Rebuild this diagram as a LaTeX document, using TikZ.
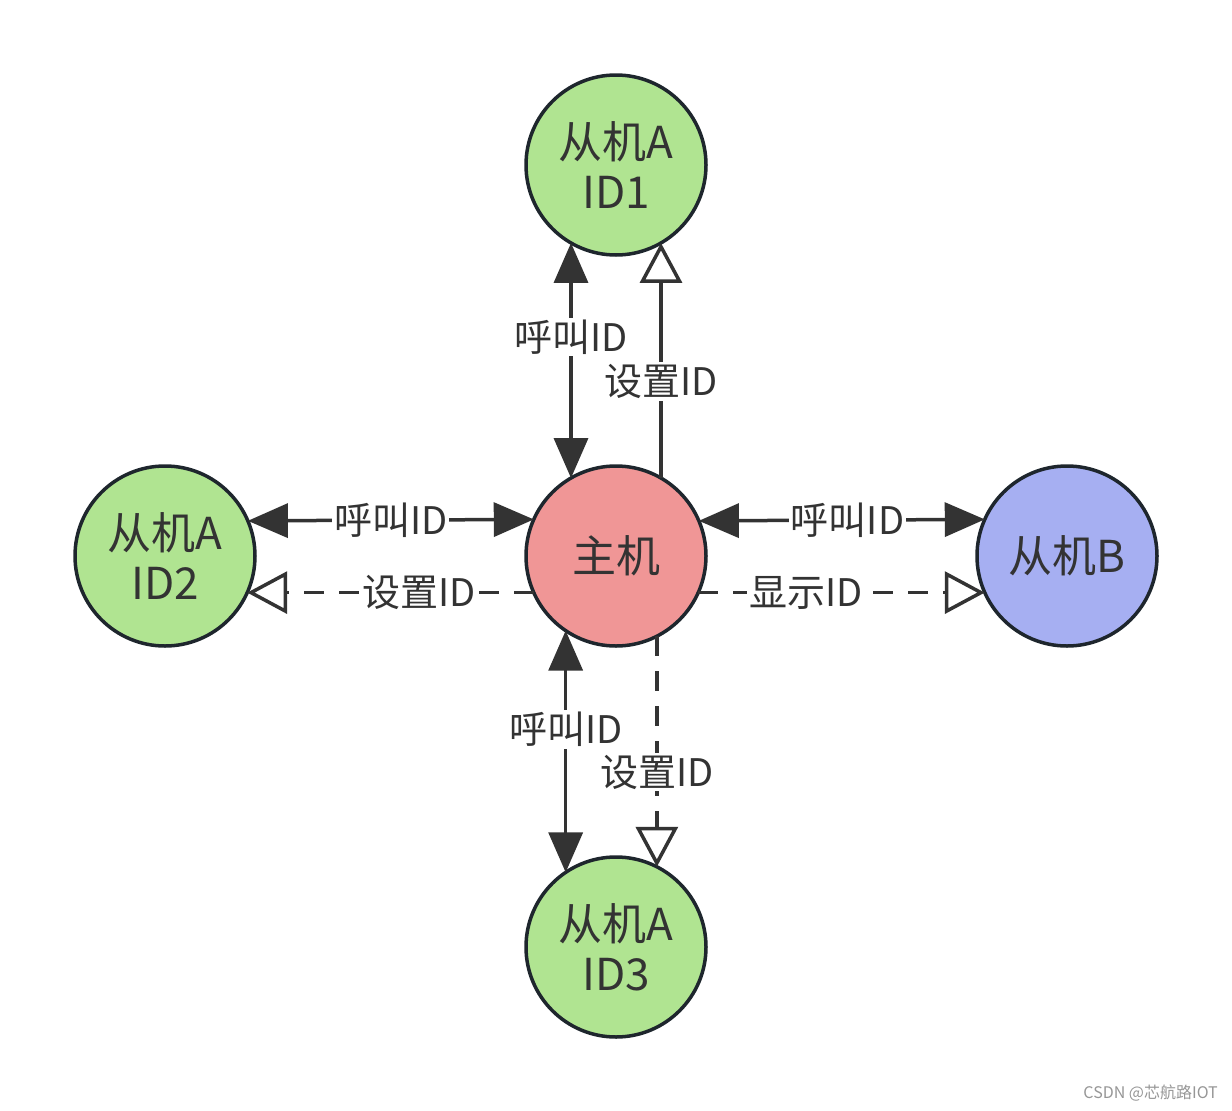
\documentclass[tikz,border=0pt]{standalone}
\usepackage{fontspec}
\setmainfont{Noto Sans CJK SC}
\usetikzlibrary{arrows.meta}
\definecolor{cgreen}{RGB}{176,228,145}
\definecolor{cpink}{RGB}{240,150,150}
\definecolor{cblue}{RGB}{166,175,242}
\definecolor{cstroke}{RGB}{30,38,45}
\definecolor{cline}{RGB}{51,51,51}
\definecolor{ctext}{RGB}{51,51,51}
\definecolor{cwm}{RGB}{150,150,150}
\tikzset{
  station/.style={circle, draw=cstroke, line width=3.5pt, minimum size=180pt, inner sep=0pt, outer sep=0pt,
    align=center, text=ctext, font=\fontsize{44}{50}\selectfont},
  conn/.style={draw=cline, line width=3.5pt},
  callarrow/.style={conn, {Triangle[length=40pt,width=34pt]}-{Triangle[length=40pt,width=34pt]}},
  setarrow/.style={conn, -{Triangle[open,length=40pt,width=42pt,line width=3.5pt]}},
  dasharrow/.style={setarrow, dash pattern=on 20pt off 15pt},
  lbl/.style={fill=white, text=ctext, inner sep=2pt, font=\fontsize{38}{44}\selectfont}
}
\begin{document}
\begin{tikzpicture}[x=1pt,y=-1pt]
\useasboundingbox (0,0) rectangle (1232,1111);
\node[station, fill=cgreen] (top) at (616,165) {从机A\\ID1};
\node[station, fill=cgreen] (left) at (165,556) {从机A\\ID2};
\node[station, fill=cpink] (main) at (616,556) {主机};
\node[station, fill=cblue] (right) at (1067,556) {从机B};
\node[station, fill=cgreen] (bottom) at (616,947) {从机A\\ID3};

% top
\draw[callarrow] (top.-120) -- node[lbl, pos=0.4] (l1) {呼叫ID} (main.120);
\draw[setarrow] (main.60) -- node[lbl, pos=0.41] (l2) {设置ID} (top.-60);
% left
\draw[callarrow] (left.23.6) -- node[lbl, pos=0.5] (l3) {呼叫ID} (main.156.4);
\draw[dasharrow] (main.-156) -- node[lbl, pos=0.4] (l4) {设置ID} (left.-24);
% right
\draw[callarrow] (main.23.6) -- node[lbl, pos=0.52] (l5) {呼叫ID} (right.156.4);
\draw[dasharrow] (main.-24) -- node[lbl, pos=0.375] (l6) {显示ID} (right.-156);
% bottom
\draw[callarrow] (main.-124.5) -- node[lbl, pos=0.41] (l7) {呼叫ID} (bottom.124.5);
\draw[dasharrow] (main.-63.6) -- node[lbl, pos=0.59] (l8) {设置ID} (bottom.63.6);

\node[anchor=east, text=cwm, font=\fontsize{16}{18}\selectfont, inner sep=0pt] (wm) at (1218,1093) {CSDN @芯航路IOT};
\end{tikzpicture}
\end{document}
